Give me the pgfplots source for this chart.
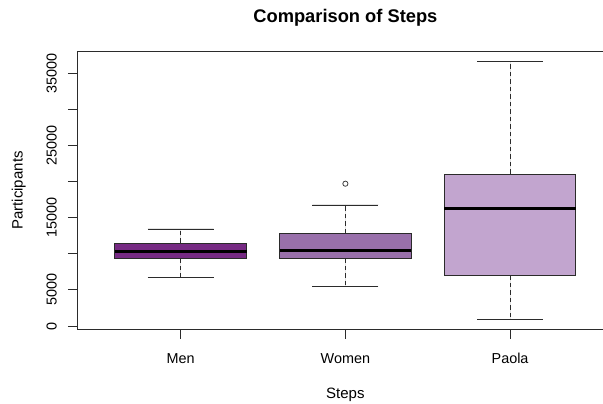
\documentclass[border=0pt]{standalone}
\usepackage{fontspec}
\setmainfont{Liberation Sans}
\usepackage{pgfplots}
\pgfplotsset{compat=1.18}
\usepgfplotslibrary{statistics}
\definecolor{menc}{HTML}{762A83}
\definecolor{womc}{HTML}{9970AB}
\definecolor{paoc}{HTML}{C2A5CF}
\definecolor{linec}{HTML}{2B2B2B}
\begin{document}
\begin{tikzpicture}
\path[use as bounding box] (-77pt,-74.4pt) rectangle (526pt,329.6pt);
\clip (-77pt,-74.4pt) rectangle (526pt,329.6pt);
\begin{axis}[
  at={(0,0)}, anchor=south west,
  scale only axis, width=536.8pt, height=278.2pt,
  xmin=0.37, xmax=3.63, ymin=-499, ymax=38034,
  xtick={1,2,3}, xticklabels={Men,Women,Paola},
  ytick={0,5000,10000,15000,20000,25000,30000,35000},
  yticklabels={0,5000,{},15000,{},25000,{},35000},
  scaled y ticks=false,
  xtick pos=bottom, ytick pos=left,
  tick align=outside, major tick length=9pt,
  tick style={linec, line width=0.9pt},
  axis line style={linec, line width=0.9pt},
  /pgf/number format/assume math mode=true,
  tick label style={font=\fontsize{14.4}{17}\selectfont},
  yticklabel style={rotate=90, anchor=base},
  xticklabel style={anchor=base},
  yticklabel shift=11.3pt,
  xticklabel shift=24.7pt,
  title={Comparison of Steps},
  every axis title/.style={at={(axis description cs:0.5,1.105)}, anchor=base, inner sep=0pt, font=\bfseries\fontsize{18.3}{22}\selectfont},
  xlabel={Steps}, ylabel={Participants},
  every axis x label/.style={at={(axis description cs:0.5,-0.2477)}, anchor=base, inner sep=0pt, font=\fontsize{15}{18}\selectfont},
  every axis y label/.style={at={(axis description cs:-0.1015,0.5)}, rotate=90, anchor=base, inner sep=0pt, font=\fontsize{15}{18}\selectfont},
  boxplot/draw direction=y,
  boxplot/every median/.style={draw=black, line width=3pt},
  boxplot/every box/.style={draw=linec, line width=0.9pt},
  boxplot/draw/lower whisker/.code={%
    \draw[linec, line width=0.9pt, dash pattern=on 4.5pt off 3pt] (boxplot box cs:\pgfplotsboxplotvalue{lower quartile},0.5) -- (boxplot box cs:\pgfplotsboxplotvalue{lower whisker},0.5);
    \draw[linec, line width=0.9pt] (boxplot whisker cs:\pgfplotsboxplotvalue{lower whisker},0) -- (boxplot whisker cs:\pgfplotsboxplotvalue{lower whisker},1);
  },
  boxplot/draw/upper whisker/.code={%
    \draw[linec, line width=0.9pt, dash pattern=on 4.5pt off 3pt] (boxplot box cs:\pgfplotsboxplotvalue{upper quartile},0.5) -- (boxplot box cs:\pgfplotsboxplotvalue{upper whisker},0.5);
    \draw[linec, line width=0.9pt] (boxplot whisker cs:\pgfplotsboxplotvalue{upper whisker},0) -- (boxplot whisker cs:\pgfplotsboxplotvalue{upper whisker},1);
  },
]
\addplot[fill=menc, draw=linec, line width=0.9pt,
  boxplot prepared={draw position=1, median=10291, upper quartile=11496, lower quartile=9377, upper whisker=13435, lower whisker=6690, box extend=0.8, whisker extend=0.4}]
  coordinates {};
\addplot[fill=womc, draw=linec, line width=0.9pt, mark=o, mark size=2.6pt, mark options={draw=black!75, fill=none, line width=0.8pt, solid},
  boxplot prepared={draw position=2, median=10388, upper quartile=12839, lower quartile=9377, upper whisker=16759, lower whisker=5443, box extend=0.8, whisker extend=0.4}]
  coordinates {(0,19709)};
\addplot[fill=paoc, draw=linec, line width=0.9pt,
  boxplot prepared={draw position=3, median=16205, upper quartile=21053, lower quartile=7022, upper whisker=36607, lower whisker=928, box extend=0.8, whisker extend=0.4}]
  coordinates {};
\end{axis}
\end{tikzpicture}
\end{document}
